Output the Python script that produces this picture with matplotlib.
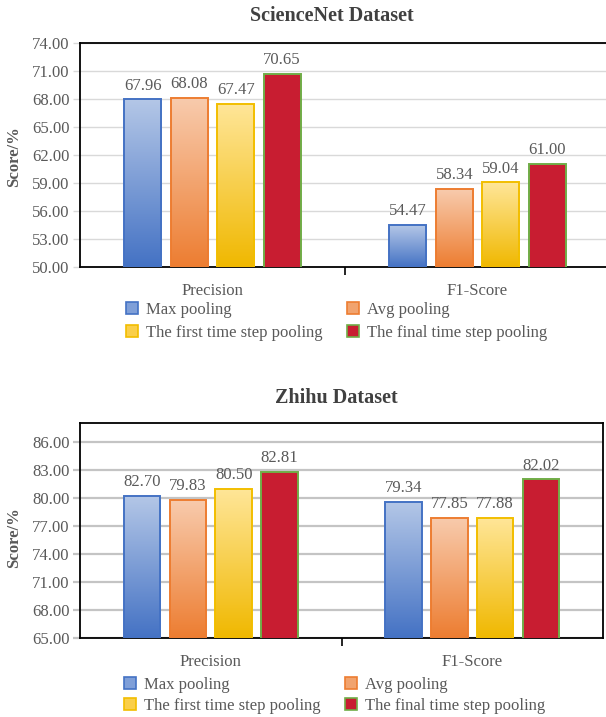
import numpy as np
import matplotlib
matplotlib.use('Agg')
import matplotlib.pyplot as plt
from matplotlib.colors import LinearSegmentedColormap
from matplotlib.patches import Patch

plt.rcParams['font.family'] = ['Liberation Serif', 'DejaVu Serif']

# ---------------- data ----------------
categories = ['Precision', 'F1-Score']
series_names = ['Max pooling', 'Avg pooling',
                'The first time step pooling', 'The final time step pooling']

# ScienceNet dataset
sci_max = [67.96, 54.47]
sci_avg = [68.08, 58.34]
sci_first = [67.47, 59.04]
sci_final = [70.65, 61.00]

# Zhihu dataset: bar heights as drawn, and the printed labels
zh_max = [80.27, 79.62]
zh_avg = [79.84, 77.90]
zh_first = [81.02, 77.90]
zh_final = [82.85, 82.02]
zh_max_labels = ['82.70', '79.34']
zh_avg_labels = ['79.83', '77.85']
zh_first_labels = ['80.50', '77.88']
zh_final_labels = ['82.81', '82.02']

sci_ticks = [50, 53, 56, 59, 62, 65, 68, 71, 74]
zh_ticks = [65, 68, 71, 74, 77, 80, 83, 86]

# ---------------- style ----------------
grad_colors = [('#4472C4', '#B4C7E7'),
               ('#ED7D31', '#F8CBAD'),
               ('#F0B800', '#FFE699'),
               None]
solid_red = '#C81D31'
edge_colors = ['#4472C4', '#ED7D31', '#F2BE00', '#70AD47']
legend_face = ['#7F9FD8', '#F1A36E', '#FACF4A', solid_red]
text_grey = '#595959'

fig = plt.figure(figsize=(6.06, 7.17), dpi=100)


def draw(ax, values, labels, ylim, ticks, grid_color, grid_lw):
    x = np.arange(len(categories))
    step, width = 0.175, 0.14
    ax.set_xlim(-0.5, 1.5)
    ax.set_ylim(*ylim)
    for i, (h, lab) in enumerate(zip(values, labels)):
        xs = x + (i - 1.5) * step
        if grad_colors[i] is None:
            bars = ax.bar(xs, h, width, facecolor=solid_red,
                          edgecolor=edge_colors[i], linewidth=1.4, zorder=4)
        else:
            bars = ax.bar(xs, h, width, facecolor='none',
                          edgecolor=edge_colors[i], linewidth=1.4, zorder=4)
            cmap = LinearSegmentedColormap.from_list('g', list(grad_colors[i]))
            grad = np.linspace(1, 0, 256).reshape(-1, 1)
            for b in bars:
                x0 = b.get_x()
                im = ax.imshow(grad, extent=[x0, x0 + b.get_width(), ylim[0], b.get_height()],
                               aspect='auto', cmap=cmap, origin='upper', zorder=3,
                               vmin=0, vmax=1)
                im.set_clip_path(b)
        for b, t in zip(bars, lab):
            ax.annotate(t, (b.get_x() + b.get_width() / 2, b.get_height()),
                        xytext=(0, 4), textcoords='offset points',
                        ha='center', va='bottom', fontsize=12, color=text_grey)
    ax.set_xlim(-0.5, 1.5)
    ax.set_ylim(*ylim)
    ax.set_yticks(ticks)
    ax.set_yticklabels(['%.2f' % t for t in ticks])
    ax.yaxis.grid(True, color=grid_color, linewidth=grid_lw, zorder=0)
    ax.set_axisbelow(True)
    ax.tick_params(axis='y', length=5, width=grid_lw, color=grid_color,
                   labelsize=12, labelcolor=text_grey, pad=2.5)
    ax.set_xticks(x)
    ax.set_xticklabels(categories)
    ax.tick_params(axis='x', which='major', length=0, labelsize=12,
                   labelcolor=text_grey, pad=11.5)
    ax.set_xticks([0.5], minor=True)
    ax.tick_params(axis='x', which='minor', length=6, width=1.2, color='black')
    for s in ax.spines.values():
        s.set_color('black')
        s.set_linewidth(1.3)


ax1 = fig.add_axes([80 / 606, 1 - 266.7 / 717, 530 / 606, 224 / 717])
draw(ax1, [sci_max, sci_avg, sci_first, sci_final],
     [['%.2f' % v for v in s] for s in [sci_max, sci_avg, sci_first, sci_final]],
     (50, 74), sci_ticks, '#D9D9D9', 1.0)

ax2 = fig.add_axes([80 / 606, 1 - 637.7 / 717, 523 / 606, 215 / 717])
draw(ax2, [zh_max, zh_avg, zh_first, zh_final],
     [zh_max_labels, zh_avg_labels, zh_first_labels, zh_final_labels],
     (65, 88.1), zh_ticks, '#C4C4C4', 1.6)

fig.text(332 / 606, 1 - 16 / 717, 'ScienceNet Dataset', ha='center', va='center',
         fontsize=14.5, fontweight='bold', color='#404040')
fig.text(336 / 606, 1 - 398 / 717, 'Zhihu Dataset', ha='center', va='center',
         fontsize=14.5, fontweight='bold', color='#404040')
fig.text(14 / 606, 1 - 157 / 717, 'Score/%', rotation=90, ha='center', va='center',
         fontsize=12, fontweight='bold', color=text_grey)
fig.text(14 / 606, 1 - 538 / 717, 'Score/%', rotation=90, ha='center', va='center',
         fontsize=12, fontweight='bold', color=text_grey)

handles = [Patch(facecolor=legend_face[i], edgecolor=edge_colors[i], linewidth=1.2)
           for i in range(4)]
order = [0, 2, 1, 3]
for ypos, xpos, lsp in [(1 - 302 / 717, 126 / 606, 0.4), (1 - 677 / 717, 124 / 606, 0.3)]:
    fig.legend([handles[i] for i in order], [series_names[i] for i in order],
               ncol=2, loc='upper left', bbox_to_anchor=(xpos, ypos),
               frameon=False, fontsize=12, handlelength=0.72, handleheight=0.72,
               handletextpad=0.45, columnspacing=1.5, labelspacing=lsp,
               borderpad=0, borderaxespad=0, labelcolor=text_grey)

fig.savefig('out.png', dpi=100)
